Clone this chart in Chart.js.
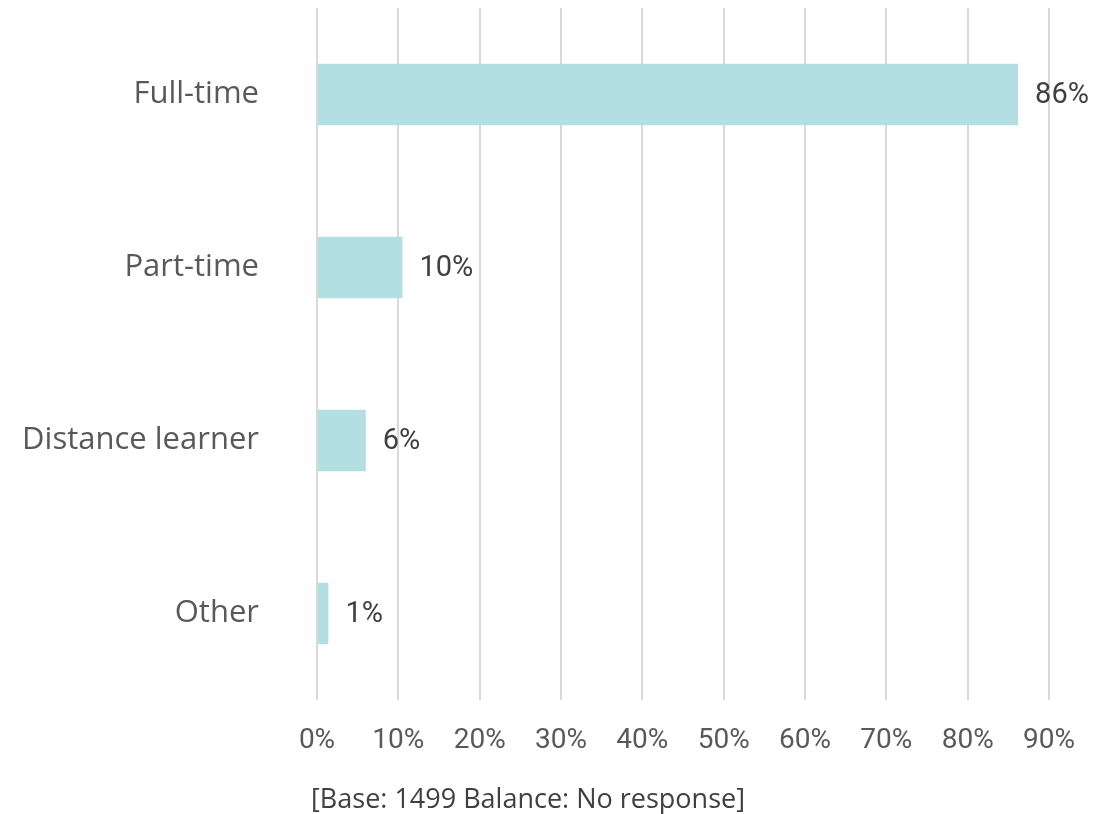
<!DOCTYPE html>
<html>
<head>
<meta charset="utf-8">
<script src="https://cdn.jsdelivr.net/npm/chart.js@4.4.1/dist/chart.umd.min.js"></script>
<style>
  html, body { margin: 0; padding: 0; background: #ffffff; }
  #wrap { position: relative; width: 1112px; height: 814px; }
  #note { position: absolute; left: 0; width: 1056px; top: 780px; text-align: center;
          font-family: "Open Sans", sans-serif; font-size: 27px; line-height: 36px; color: #404040; }
</style>
</head>
<body>
<div id="wrap">
  <canvas id="c" width="1112" height="814"></canvas>
  <div id="note">[Base: 1499 Balance: No response]</div>
</div>
<script>
const categories = ["Full-time", "Part-time", "Distance learner", "Other"];
const values = [86.2, 10.5, 6.0, 1.4];
const valueLabels = ["86%", "10%", "6%", "1%"];
const xTicks = [0, 10, 20, 30, 40, 50, 60, 70, 80, 90];

const numFont = 'Roboto, "DejaVu Sans", sans-serif';

const dataLabelPlugin = {
  id: 'dataLabels',
  afterDatasetsDraw(chart) {
    const ctx = chart.ctx;
    const meta = chart.getDatasetMeta(0);
    ctx.save();
    ctx.font = '29px ' + numFont;
    ctx.fillStyle = '#404040';
    ctx.textAlign = 'left';
    ctx.textBaseline = 'middle';
    meta.data.forEach((bar, i) => {
      ctx.fillText(valueLabels[i], bar.x + 17, bar.y + 1);
    });
    ctx.restore();
  }
};

new Chart(document.getElementById('c'), {
  type: 'bar',
  data: {
    labels: categories,
    datasets: [{
      data: values,
      backgroundColor: '#b3dfe3',
      borderWidth: 0,
      barPercentage: 0.355,
      categoryPercentage: 1.0
    }]
  },
  options: {
    indexAxis: 'y',
    responsive: false,
    animation: false,
    layout: { padding: { top: 8, right: 63, bottom: 56, left: 0 } },
    plugins: { legend: { display: false }, tooltip: { enabled: false }, title: { display: false } },
    scales: {
      x: {
        min: 0, max: 90,
        afterBuildTicks(axis) { axis.ticks = xTicks.map(v => ({ value: v })); },
        afterFit(axis) { axis.height = 58; axis.paddingLeft = 0; axis.paddingRight = 0; },
        grid: { color: '#d9d9d9', lineWidth: 2, drawTicks: false },
        border: { display: false },
        ticks: {
          padding: 24,
          maxRotation: 0,
          autoSkip: false,
          color: '#595959',
          font: { family: numFont, size: 28 },
          callback: v => v + '%'
        }
      },
      y: {
        afterFit(axis) { axis.width = 317; axis.paddingTop = 0; axis.paddingBottom = 0; },
        grid: { display: false, drawTicks: false },
        border: { display: false },
        ticks: {
          padding: 58,
          color: '#595959',
          font: { family: '"Open Sans", sans-serif', size: 31 }
        }
      }
    }
  },
  plugins: [dataLabelPlugin]
});
</script>
</body>
</html>
